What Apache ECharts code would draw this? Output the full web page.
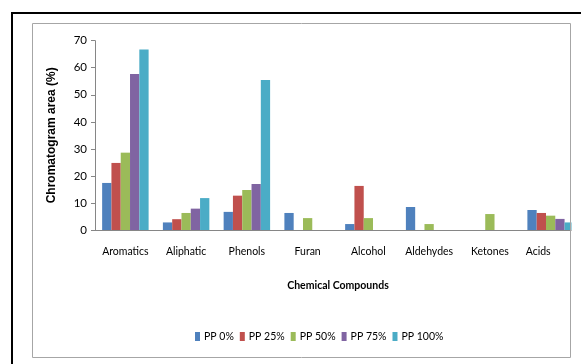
<!DOCTYPE html>
<html>
<head>
<meta charset="utf-8">
<script src="https://cdn.jsdelivr.net/npm/echarts@6/dist/echarts.min.js"></script>
<style>
  html, body { margin: 0; padding: 0; background: #fff; }
  #chart { width: 581px; height: 364px; }
</style>
</head>
<body>
<div id="chart"></div>
<script>
// Chromatogram area (%) of compound classes for each PP blend ratio
const categories = ['Aromatics', 'Aliphatic', 'Phenols', 'Furan', 'Alcohol', 'Aldehydes', 'Ketones', 'Acids'];
const seriesNames = ['PP 0%', 'PP 25%', 'PP 50%', 'PP 75%', 'PP 100%'];
const pp0   = [17.4, 2.8, 6.7, 6.3, 2.2, 8.5, null, 7.4];
const pp25  = [24.8, 4.0, 12.7, null, 16.3, null, null, 6.3];
const pp50  = [28.6, 6.3, 14.8, 4.4, 4.4, 2.2, 5.9, 5.3];
const pp75  = [57.7, 7.9, 17.0, null, null, null, null, 4.1];
const pp100 = [66.7, 11.8, 55.5, null, null, null, null, 2.8];
const yTicks = [0, 10, 20, 30, 40, 50, 60, 70];

const palette = ['#4F81BD', '#C0504D', '#9BBB59', '#8064A2', '#4BACC6'];
const values = [pp0, pp25, pp50, pp75, pp100];
const labelFont = 'Lato, "Noto Sans", sans-serif';

const chart = echarts.init(document.getElementById('chart'), null, { renderer: 'canvas' });

chart.setOption({
  animation: false,
  color: palette,
  grid: { left: 95, top: 40.7, bottom: 134, width: 490, containLabel: false },
  legend: {
    data: seriesNames,
    left: 195,
    top: 331,
    padding: 0,
    itemWidth: 5,
    itemHeight: 9,
    itemGap: 6,
    icon: 'rect',
    textStyle: { fontFamily: labelFont, fontSize: 10.5, color: '#000', padding: [0, 0, 0, -1] }
  },
  xAxis: {
    type: 'category',
    data: categories,
    axisLine: { lineStyle: { color: '#868686', width: 1 } },
    axisTick: { show: false },
    axisLabel: { fontFamily: labelFont, fontSize: 10.5, color: '#000', margin: 16, interval: 0, alignMaxLabel: 'right' },
    name: 'Chemical Compounds',
    nameLocation: 'middle',
    nameGap: 50,
    nameTextStyle: { fontFamily: labelFont, fontSize: 10.5, fontWeight: 'bold', color: '#000' }
  },
  yAxis: {
    type: 'value',
    min: yTicks[0],
    max: yTicks[yTicks.length - 1],
    interval: yTicks[1] - yTicks[0],
    splitLine: { show: false },
    axisLine: { show: true, lineStyle: { color: '#868686', width: 1 } },
    axisTick: { show: true, length: 4, lineStyle: { color: '#868686' } },
    axisLabel: { fontFamily: labelFont, fontSize: 11.5, color: '#000', margin: 8 },
    name: 'Chromatogram area (%)',
    nameLocation: 'middle',
    nameRotate: 90,
    nameGap: 37,
    nameTextStyle: { fontFamily: '"Liberation Sans", Arial, sans-serif', fontSize: 12, fontWeight: 'bold', color: '#000' }
  },
  series: seriesNames.map((name, i) => ({
    name,
    type: 'bar',
    data: values[i],
    barGap: '0%',
    barCategoryGap: '23.5%',
    itemStyle: { color: palette[i] }
  })),
  graphic: [
    {
      type: 'rect',
      z: 100,
      shape: { x: 571.5, y: 20, width: 20, height: 350 },
      style: { fill: '#fff' }
    },
    {
      type: 'rect',
      z: 101,
      shape: { x: 32.5, y: 23.5, width: 538, height: 334 },
      style: { fill: 'none', stroke: '#a6a6a6', lineWidth: 1 }
    },
    {
      type: 'rect',
      z: 102,
      shape: { x: 12, y: 13, width: 620, height: 400 },
      style: { fill: 'none', stroke: '#000', lineWidth: 2 }
    }
  ]
});
</script>
</body>
</html>
